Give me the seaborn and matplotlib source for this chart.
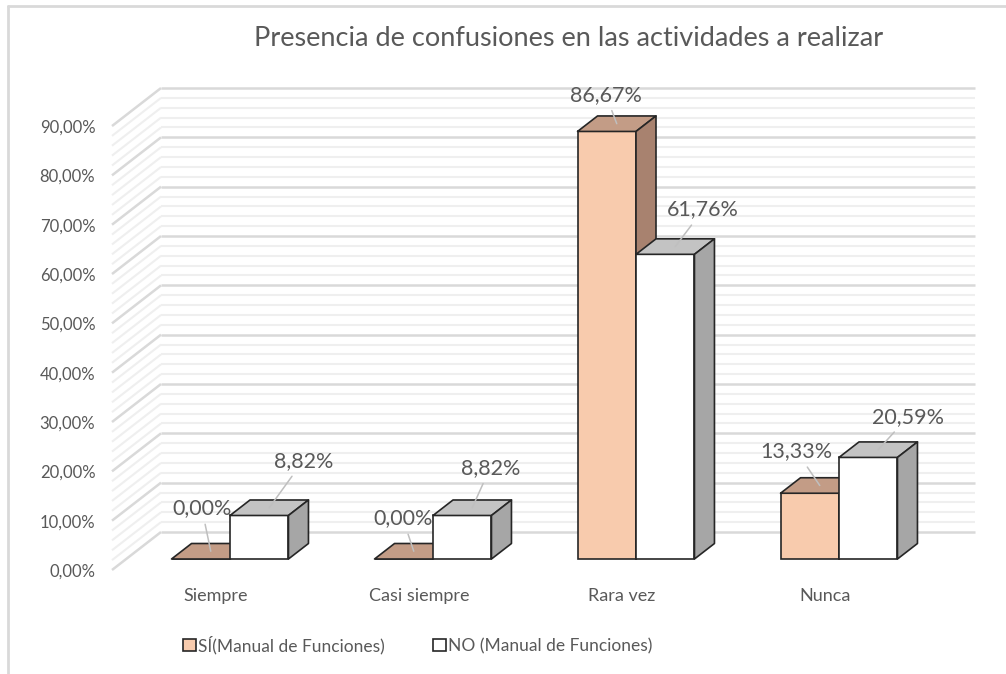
import numpy as np
import pandas as pd
import seaborn as sns
import matplotlib.pyplot as plt
from matplotlib.patches import Polygon, Patch
from matplotlib.lines import Line2D

# --- Datos ---
categorias = ["Siempre", "Casi siempre", "Rara vez", "Nunca"]
grupos = ["SÍ(Manual de Funciones)", "NO (Manual de Funciones)"]
si_manual = [0.00, 0.00, 86.67, 13.33]
no_manual = [8.82, 8.82, 61.76, 20.59]
ticks_mayores = list(range(0, 100, 10))
titulo = "Presencia de confusiones en las actividades a realizar"

# --- Estilo ---
sns.set_style("white")
plt.rcParams['font.family'] = ['Lato', 'DejaVu Sans']
gris_texto = '#595959'
colores = {"SÍ(Manual de Funciones)": '#F8CBAD', "NO (Manual de Funciones)": '#FFFFFF'}
caras = {"SÍ(Manual de Funciones)": ('#C39C86', '#A8826F'),
         "NO (Manual de Funciones)": ('#C3C3C3', '#A6A6A6')}

df = pd.DataFrame({
    "categoria": categorias * 2,
    "grupo": [grupos[0]] * 4 + [grupos[1]] * 4,
    "valor": si_manual + no_manual,
})

W, H = 1006, 674
fig = plt.figure(figsize=(W / 100, H / 100), dpi=100)

# geometria en pixeles del area de trazado (proyeccion oblicua tipo Excel 3D)
px_cat, px_pct = 203.0, 4.933
x0_px, y0_px = 230.0, 559.0          # centro del primer grupo / base frontal de barras
izq, der, arriba, abajo = 112, 975, 70, 570
ax = fig.add_axes([izq / W, (H - abajo) / H, (der - izq) / W, (abajo - arriba) / H])

sns.barplot(data=df, x="categoria", y="valor", hue="grupo", palette=colores,
            width=0.576, edgecolor='#262626', linewidth=1.2, legend=False,
            saturation=1, ax=ax)

ax.set_xlim((izq - x0_px) / px_cat, (der - x0_px) / px_cat)
ax.set_ylim((y0_px - abajo) / px_pct, (y0_px - arriba) / px_pct)
xmin = ax.get_xlim()[0]

# profundidades (en unidades de datos)
prof_x, prof_y = 49 / px_cat, 38 / px_pct            # pared completa
frente_x, frente_y = -14.2 / px_cat, -11 / px_pct    # plano del eje respecto a las barras
barra_x, barra_y = 20 / px_cat, 15.5 / px_pct        # fondo de cada barra

# paredes: lineas de cuadricula (fondo + pared izquierda)
for v in np.arange(0, 91, 2):
    mayor = v % 10 == 0
    c = '#D9D9D9' if mayor else '#EFEFEF'
    lw = 1.8 if mayor else 1.5
    y_front = v + frente_y
    y_back = y_front + prof_y
    ax.plot([xmin, xmin + prof_x], [y_front, y_back], color=c, lw=lw, zorder=0.5,
            clip_on=False, solid_capstyle='butt')
    ax.plot([xmin + prof_x, ax.get_xlim()[1]], [y_back, y_back], color=c, lw=lw,
            zorder=0.5, clip_on=False, solid_capstyle='butt')

# caras 3D de cada barra
n = len(categorias)
for i, p in enumerate(ax.patches):
    g = grupos[i // n]
    base_z = 2 if i < n else 3
    p.set_zorder(base_z)
    x, w, h = p.get_x(), p.get_width(), p.get_height()
    top = Polygon([(x, h), (x + w, h), (x + w + barra_x, h + barra_y), (x + barra_x, h + barra_y)],
                  closed=True, facecolor=caras[g][0], edgecolor='#262626', lw=1.2,
                  zorder=base_z + 0.1, joinstyle='round')
    side = Polygon([(x + w, 0), (x + w, h), (x + w + barra_x, h + barra_y), (x + w + barra_x, barra_y)],
                   closed=True, facecolor=caras[g][1], edgecolor='#262626', lw=1.2,
                   zorder=base_z + 0.1, joinstyle='round')
    ax.add_patch(top)
    ax.add_patch(side)

# etiquetas de datos con lineas guia (desplazamiento en pixeles)
desplaz = [(-9, 43), (-11, 33), (-11, 29), (-23, 34),
           (34, 47), (18, 40), (28, 37), (30, 33)]
valores = si_manual + no_manual
for i, p in enumerate(ax.patches[:2 * n]):
    cx = p.get_x() + p.get_width() / 2 + barra_x / 2
    cy = p.get_height() + barra_y / 2
    texto = f"{valores[i]:.2f}".replace(".", ",") + "%"
    ax.annotate(texto, xy=(cx, cy), xytext=desplaz[i], textcoords='offset pixels',
                ha='center', va='center', fontsize=15.5, color=gris_texto, zorder=6,
                arrowprops=dict(arrowstyle='-', color='#BFBFBF', lw=1.1,
                                shrinkA=2, shrinkB=0))

# ejes
ax.set_yticks([t + frente_y for t in ticks_mayores])
ax.set_yticklabels([f"{t:.2f}".replace(".", ",") + "%" for t in ticks_mayores])
ax.set_xticks([k + frente_x for k in range(n)])
ax.set_xticklabels(categorias)
ax.tick_params(axis='y', length=0, pad=12, labelsize=12, labelcolor=gris_texto)
ax.tick_params(axis='x', length=0, pad=13, labelsize=13, labelcolor=gris_texto)
ax.set_xlabel("")
ax.set_ylabel("")
sns.despine(ax=ax, left=True, bottom=True)
ax.patch.set_alpha(0)

fig.text(569 / W, 1 - 38 / H, titulo, ha='center', va='center', fontsize=19.5, color=gris_texto)

handles = [Patch(facecolor=colores[g], edgecolor='#262626', lw=1.2) for g in grupos]
fig.legend(handles, grupos, loc='center', bbox_to_anchor=(418 / W, 1 - 645 / H), ncol=2,
           frameon=False, fontsize=12.5, labelcolor=gris_texto, handlelength=0.7,
           handleheight=0.7, handletextpad=0.15, columnspacing=2.8)

# borde del grafico (solo arriba e izquierda visibles)
fig.add_artist(Line2D([8 / W, 1], [1 - 6 / H, 1 - 6 / H], color='#D9D9D9', lw=2))
fig.add_artist(Line2D([8 / W, 8 / W], [0, 1 - 6 / H], color='#D9D9D9', lw=2))

fig.savefig("out.png", dpi=100)
